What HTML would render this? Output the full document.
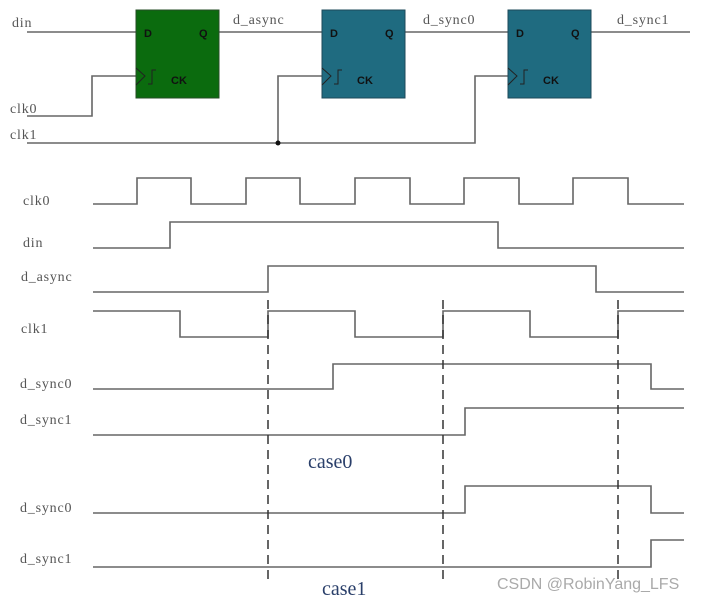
<!DOCTYPE html>
<html><head><meta charset="utf-8"><style>
body{margin:0;background:#fff}
svg{display:block}
.l{font-family:"Liberation Serif",serif;font-size:14px;fill:#555;letter-spacing:0.8px}
.b{font-family:"Liberation Sans",sans-serif;font-size:11px;font-weight:bold;fill:#111}
</style></head><body>
<svg width="708" height="603" viewBox="0 0 708 603">
<g fill="none" stroke="#666" stroke-width="1.6">
<path d="M27 32H136M219 32H322M405 32H508M591 32H690"/>
<path d="M27 116H92V76H136"/>
<path d="M27 143H475V76H508M278 143V76H322"/>
<path d="M93 204H137V178H191V204H246V178H300V204H355V178H410V204H464V178H519V204H573V178H628V204H684"/>
<path d="M93 248H170V222H498V248H684"/>
<path d="M93 292H268V266H596V292H684"/>
<path d="M93 311H180V337H268V311H355V337H443V311H530V337H618V311H684"/>
<path d="M93 389H333V364H651V389H684"/>
<path d="M93 435H465V408H684"/>
<path d="M93 513H465V486H651V513H684"/>
<path d="M93 567H651V540H684"/>
</g>
<g stroke="#333" stroke-width="1.5" stroke-dasharray="9,6">
<path d="M268 300V582M443 300V582M618 300V582"/>
</g>
<circle cx="278" cy="143" r="2.5" fill="#111"/>
<rect x="136" y="10" width="83" height="88" fill="#0b6b0e" stroke="#264d26"/>
<rect x="322" y="10" width="83" height="88" fill="#1f6b80" stroke="#1c4a5a"/>
<rect x="508" y="10" width="83" height="88" fill="#1f6b80" stroke="#1c4a5a"/>
<g fill="none" stroke="#222" stroke-width="1">
<path d="M136 68L145 76L136 85M322 68L331 76L322 85M508 68L517 76L508 85"/>
<path d="M148 84h4V70h4M334 84h4V70h4M520 84h4V70h4"/>
</g>
<g class="b">
<text x="144" y="37">D</text><text x="199" y="37">Q</text><text x="171" y="84">CK</text>
<text x="330" y="37">D</text><text x="385" y="37">Q</text><text x="357" y="84">CK</text>
<text x="516" y="37">D</text><text x="571" y="37">Q</text><text x="543" y="84">CK</text>
</g>
<g class="l">
<text x="12" y="27">din</text><text x="10" y="113">clk0</text><text x="10" y="139">clk1</text>
<text x="233" y="24">d_async</text><text x="423" y="24">d_sync0</text><text x="617" y="24">d_sync1</text>
<text x="23" y="205">clk0</text><text x="23" y="247">din</text><text x="21" y="281">d_async</text>
<text x="21" y="333">clk1</text><text x="20" y="388">d_sync0</text><text x="20" y="424">d_sync1</text>
<text x="20" y="512">d_sync0</text><text x="20" y="563">d_sync1</text>
</g>
<text x="308" y="468" style="font-family:'Liberation Serif',serif;font-size:20px;fill:#2a3f6a">case0</text>
<text x="322" y="595" style="font-family:'Liberation Serif',serif;font-size:20px;fill:#2a3f6a">case1</text>
<text x="497" y="589" style="font-family:'Liberation Sans',sans-serif;font-size:16px;fill:#aaa">CSDN @RobinYang_LFS</text>
</svg>
</body></html>
